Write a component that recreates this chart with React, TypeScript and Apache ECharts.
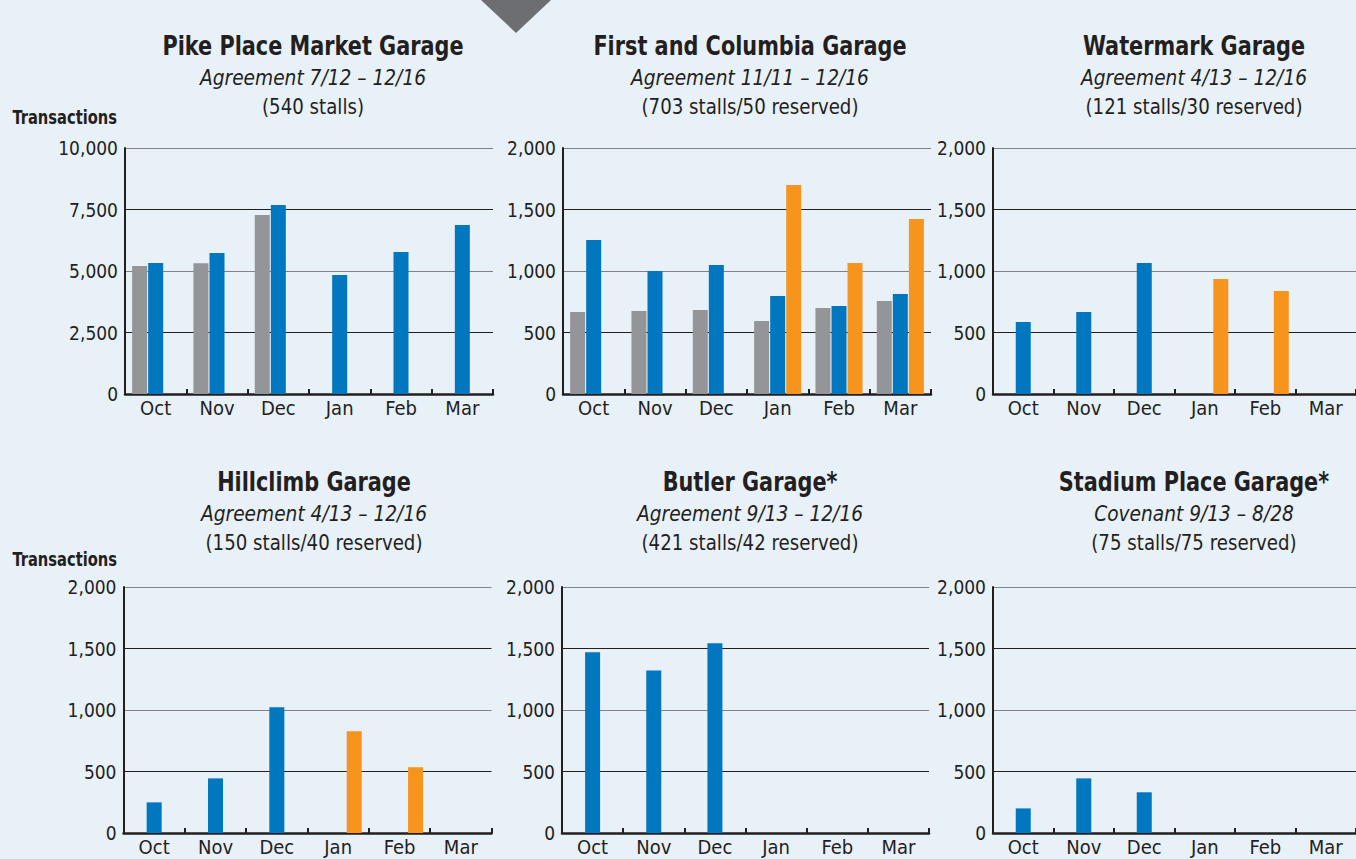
import React, { useEffect, useRef } from 'react';
import * as echarts from 'echarts';

// ---------- data ----------
const months = ['Oct', 'Nov', 'Dec', 'Jan', 'Feb', 'Mar'];

const pikeGray = [5200, 5320, 7280, null, null, null];
const pikeBlue = [5330, 5730, 7680, 4840, 5770, 6870];
const pikeOrange = [null, null, null, null, null, null];

const firstGray = [667, 675, 683, 593, 699, 756];
const firstBlue = [1252, 1000, 1049, 797, 715, 813];
const firstOrange = [null, null, null, 1699, 1065, 1423];

const waterGray = [null, null, null, null, null, null];
const waterBlue = [585, 667, 1065, null, null, null];
const waterOrange = [null, null, null, 935, 837, null];

const hillGray = [null, null, null, null, null, null];
const hillBlue = [249, 444, 1022, null, null, null];
const hillOrange = [null, null, null, 827, 534, null];

const butlerGray = [null, null, null, null, null, null];
const butlerBlue = [1469, 1322, 1542, null, null, null];
const butlerOrange = [null, null, null, null, null, null];

const stadiumGray = [null, null, null, null, null, null];
const stadiumBlue = [200, 444, 331, null, null, null];
const stadiumOrange = [null, null, null, null, null, null];

const titles = ['Pike Place Market Garage', 'First and Columbia Garage', 'Watermark Garage', 'Hillclimb Garage', 'Butler Garage*', 'Stadium Place Garage*'];
const subtitles = ['Agreement 7/12 \u2013 12/16', 'Agreement 11/11 \u2013 12/16', 'Agreement 4/13 \u2013 12/16', 'Agreement 4/13 \u2013 12/16', 'Agreement 9/13 \u2013 12/16', 'Covenant 9/13 \u2013 8/28'];
const stalls = ['(540 stalls)', '(703 stalls/50 reserved)', '(121 stalls/30 reserved)', '(150 stalls/40 reserved)', '(421 stalls/42 reserved)', '(75 stalls/75 reserved)'];
const yMax = [10000, 2000, 2000, 2000, 2000, 2000];
const yInterval = [2500, 500, 500, 500, 500, 500];
const yAxisTitle = 'Transactions';

const seriesData = [
  [pikeGray, pikeBlue, pikeOrange],
  [firstGray, firstBlue, firstOrange],
  [waterGray, waterBlue, waterOrange],
  [hillGray, hillBlue, hillOrange],
  [butlerGray, butlerBlue, butlerOrange],
  [stadiumGray, stadiumBlue, stadiumOrange],
];

// ---------- layout / style ----------
const FONT = "'DejaVu Sans Condensed', 'Roboto', sans-serif";
const TEXT = '#231F20';
const COLORS = ['#939598', '#0077BE', '#F7941D'];
const BG = '#E8F0F8';

const gridPos = [
  { left: 125, top: 148, width: 368 },
  { left: 563, top: 148, width: 368 },
  { left: 993, top: 148, width: 368 },
  { left: 123.5, top: 587, width: 368 },
  { left: 562, top: 587, width: 367 },
  { left: 993, top: 587, width: 368 },
];
const titlePos = [
  { x: 313, y: 46 },
  { x: 750, y: 46 },
  { x: 1194, y: 46 },
  { x: 314, y: 482 },
  { x: 750, y: 482 },
  { x: 1194, y: 482 },
];
const PLOT_H = 246;

export default function App() {
  const ref = useRef<HTMLDivElement>(null);

  useEffect(() => {
    document.body.style.margin = '0';
    const chart = echarts.init(ref.current!, null, { renderer: 'svg' });

    const grids = gridPos.map((g) => ({ left: g.left, top: g.top, width: g.width, height: PLOT_H, containLabel: false }));

    const xAxes = gridPos.map((_, i) => ({
      type: 'category',
      gridIndex: i,
      data: months,
      boundaryGap: true,
      axisLine: { show: true, lineStyle: { color: TEXT, width: 2.5 } },
      axisTick: { show: true, inside: true, length: 5, lineStyle: { color: TEXT, width: 2 } },
      axisLabel: { color: TEXT, fontFamily: FONT, fontSize: 20, margin: 4 },
      splitLine: { show: false },
    }));

    const yAxes = gridPos.map((_, i) => ({
      type: 'value',
      gridIndex: i,
      min: 0,
      max: yMax[i],
      interval: yInterval[i],
      axisLine: { show: true, lineStyle: { color: TEXT, width: 2 } },
      axisTick: { show: false },
      axisLabel: {
        color: TEXT,
        fontFamily: FONT,
        fontSize: 19,
        margin: 7,
        formatter: (v: number) => v.toLocaleString('en-US'),
      },
      splitLine: { show: true, lineStyle: { color: ['#808285', TEXT], width: 1.2 } },
    }));

    const series: any[] = [];
    seriesData.forEach((group, gi) => {
      group.forEach((data, si) => {
        series.push({
          type: 'bar',
          xAxisIndex: gi,
          yAxisIndex: gi,
          data,
          barWidth: 15,
          barGap: '7%',
          itemStyle: { color: COLORS[si] },
          silent: true,
        });
      });
    });

    const graphics: any[] = [
      {
        type: 'polygon',
        shape: { points: [[481, 0], [551, 0], [516, 33]] },
        style: { fill: '#6D6E71' },
      },
    ];
    titlePos.forEach((p, i) => {
      graphics.push({
        type: 'text',
        x: p.x,
        y: p.y,
        scaleX: 0.89,
        style: { text: titles[i], fill: TEXT, font: `bold 26px ${FONT}`, textAlign: 'center', textVerticalAlign: 'middle' },
      });
      graphics.push({
        type: 'text',
        x: p.x,
        y: p.y + 31,
        scaleX: 0.94,
        style: { text: subtitles[i], fill: TEXT, font: `italic 22px ${FONT}`, textAlign: 'center', textVerticalAlign: 'middle' },
      });
      graphics.push({
        type: 'text',
        x: p.x,
        y: p.y + 60,
        scaleX: 0.92,
        style: { text: stalls[i], fill: TEXT, font: `22px ${FONT}`, textAlign: 'center', textVerticalAlign: 'middle' },
      });
    });
    [118, 560].forEach((y) => {
      graphics.push({
        type: 'text',
        x: 117,
        y,
        scaleX: 0.86,
        style: { text: yAxisTitle, fill: TEXT, font: `bold 19px ${FONT}`, textAlign: 'right', textVerticalAlign: 'middle' },
      });
    });

    chart.setOption({
      animation: false,
      backgroundColor: BG,
      grid: grids,
      xAxis: xAxes,
      yAxis: yAxes,
      series,
      graphic: graphics,
    });

    return () => chart.dispose();
  }, []);

  return <div ref={ref} style={{ position: 'absolute', left: 0, top: 0, width: 1356, height: 859 }} />;
}
